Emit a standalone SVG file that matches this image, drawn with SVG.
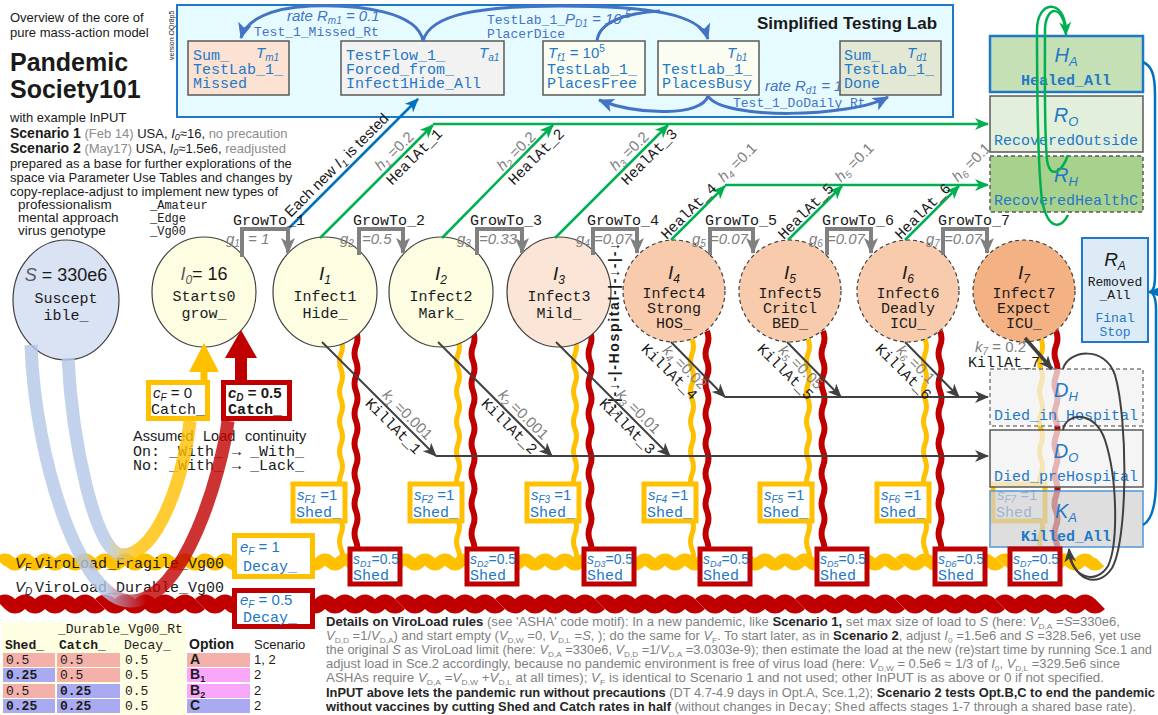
<svg xmlns="http://www.w3.org/2000/svg" width="1158" height="715" viewBox="0 0 1158 715">
<defs>
<style>
text{font-family:"Liberation Sans",Arial,sans-serif;fill:#1a1a1a}
.m{font-family:"Liberation Mono","Courier New",monospace}
.m15{font-family:"Liberation Mono","Courier New",monospace;font-size:15px}
.m13{font-family:"Liberation Mono","Courier New",monospace;font-size:13px}
.it{font-style:italic}
.b{font-weight:bold}
.bl{fill:#1f78c8}
.lbb{fill:#4472c4}
.gy{fill:#8c8c8c}
.g15{font-size:15px;font-style:italic;fill:#808080}
.wy{fill:none;stroke:#ffc000;stroke-width:12}
.wr{fill:none;stroke:#c00000;stroke-width:14}
.vy{fill:none;stroke:#ffc000;stroke-width:5}
.vr{fill:none;stroke:#c00000;stroke-width:6}
.gr{fill:none;stroke:#00b050;stroke-width:2.5}
.kd{fill:none;stroke:#404040;stroke-width:2}
.br{fill:none;stroke:#808080;stroke-width:4}
.la{fill:none;stroke:#4472c4;stroke-width:3}
.ba{fill:none;stroke:#0070c0;stroke-width:2.5}
.cy{fill:#fdfde2;stroke:#404040;stroke-width:1.2}
.cp{fill:#f8cbad;stroke:#404040;stroke-width:1.2;stroke-dasharray:4 3}
.sf{fill:#fff;stroke:#ffc000;stroke-width:5}
.sd{fill:#fff;stroke:#c00000;stroke-width:5}
.p{font-size:12.5px;fill:#7f7f7f}
.pb{font-weight:bold;fill:#262626}
.tv{font-family:"Liberation Mono","Courier New",monospace;font-size:13px}
</style>
<marker id="mG" markerUnits="userSpaceOnUse" markerWidth="14" markerHeight="12" viewBox="0 0 14 12" refX="13" refY="6" orient="auto"><path d="M0,0 L14,6 L0,12 L4,6 z" fill="#00b050"/></marker>
<marker id="mD" markerUnits="userSpaceOnUse" markerWidth="14" markerHeight="12" viewBox="0 0 14 12" refX="13" refY="6" orient="auto"><path d="M0,0 L14,6 L0,12 L4,6 z" fill="#404040"/></marker>
<marker id="mGr" markerUnits="userSpaceOnUse" markerWidth="16" markerHeight="14" viewBox="0 0 16 14" refX="15" refY="7" orient="auto"><path d="M0,0 L16,7 L0,14 L4,7 z" fill="#808080"/></marker>
<marker id="mL" markerUnits="userSpaceOnUse" markerWidth="16" markerHeight="14" viewBox="0 0 16 14" refX="15" refY="7" orient="auto"><path d="M0,0 L16,7 L0,14 L4,7 z" fill="#4472c4"/></marker>
<marker id="mB" markerUnits="userSpaceOnUse" markerWidth="14" markerHeight="12" viewBox="0 0 14 12" refX="13" refY="6" orient="auto"><path d="M0,0 L14,6 L0,12 L4,6 z" fill="#0070c0"/></marker>
<path id="wh" d="M0,0 q5,-5 10,0 t10,0 t10,0 t10,0 t10,0 t10,0 t10,0 t10,0 t10,0 t10,0"/>
<path id="wvY" d="M0,0 q3,7.5 0,15 t0,15 t0,15 t0,15 t0,15 t0,15 t0,15 t0,15 t0,15 t0,15 t0,15 t0,15 t0,15 t0,15 t0,10"/>
<path id="wvR" d="M0,0 q3,7.5 0,15 t0,15 t0,15 t0,15 t0,15 t0,15 t0,15 t0,15 t0,15 t0,15 t0,15 t0,15 t0,15 t0,15 t0,15 t0,15 t0,10"/>
<linearGradient id="gRed" gradientUnits="userSpaceOnUse" x1="60" y1="0" x2="200" y2="0"><stop offset="0.33" stop-color="#b4c7e7"/><stop offset="0.62" stop-color="#c00000"/></linearGradient>
<linearGradient id="gYel" gradientUnits="userSpaceOnUse" x1="80" y1="0" x2="170" y2="0"><stop offset="0.3" stop-color="#b4c7e7"/><stop offset="0.62" stop-color="#ffc000"/></linearGradient>
</defs>

<rect width="1158" height="715" fill="#fff"/>

<g id="lab">
<rect x="177" y="5" width="776" height="112" fill="#e5fbff" stroke="#1f78c8" stroke-width="2"/>
<text x="757" y="29" font-size="17" font-weight="bold">Simplified Testing Lab</text>
<text transform="translate(174,60) rotate(-90)" font-size="7" fill="#8c8c8c">version OQr8p5</text>
</g>

<g id="title">
<text x="10" y="22" font-size="13" fill="#262626">Overview of the core of</text>
<text x="10" y="37" font-size="13" fill="#262626">pure mass-action model</text>
<text x="10" y="71" font-size="25" font-weight="bold" fill="#000">Pandemic</text>
<text x="10" y="98" font-size="25" font-weight="bold" fill="#000">Society101</text>
<text x="10" y="122" font-size="13" fill="#8c8c8c">with example InPUT</text>
<text x="10" y="138" font-size="13" fill="#000"><tspan font-weight="bold" font-size="14">Scenario 1</tspan> <tspan fill="#8c8c8c">(Feb 14)</tspan> USA, <tspan class="it">I</tspan><tspan dy="2" font-size="9" class="it">0</tspan><tspan dy="-2">≈16, </tspan><tspan fill="#8c8c8c">no precaution</tspan></text>
<text x="10" y="153" font-size="13" fill="#000"><tspan font-weight="bold" font-size="14">Scenario 2</tspan> <tspan fill="#8c8c8c">(May17)</tspan> USA, <tspan class="it">I</tspan><tspan dy="2" font-size="9" class="it">0</tspan><tspan dy="-2">≈1.5e6, </tspan><tspan fill="#8c8c8c">readjusted</tspan></text>
<text x="10" y="168" font-size="13" fill="#8c8c8c">prepared as a base for further explorations of the</text>
<text x="10" y="182" font-size="13" fill="#8c8c8c">space via Parameter Use Tables and changes by</text>
<text x="10" y="196" font-size="13" fill="#8c8c8c">copy-replace-adjust to implement new types of</text>
<text x="18" y="209" font-size="13.5" fill="#404040">professionalism</text>
<text x="150" y="209" class="m" font-size="12" fill="#666">_Amateur</text>
<text x="18" y="222" font-size="13.5" fill="#404040">mental approach</text>
<text x="150" y="222" class="m" font-size="12" fill="#666">_Edge</text>
<text x="18" y="235" font-size="13.5" fill="#404040">virus genotype</text>
<text x="150" y="235" class="m" font-size="12" fill="#666">_Vg00</text>
</g>

<g id="waves">
<g class="wy"><use href="#wh" x="0" y="562"/><use href="#wh" x="100" y="562"/><use href="#wh" x="200" y="562"/><use href="#wh" x="300" y="562"/><use href="#wh" x="400" y="562"/><use href="#wh" x="500" y="562"/><use href="#wh" x="600" y="562"/><use href="#wh" x="700" y="562"/><use href="#wh" x="800" y="562"/><use href="#wh" x="900" y="562"/><use href="#wh" x="1000" y="562"/></g>
<g class="wr"><use href="#wh" x="0" y="604"/><use href="#wh" x="100" y="604"/><use href="#wh" x="200" y="604"/><use href="#wh" x="300" y="604"/><use href="#wh" x="400" y="604"/><use href="#wh" x="500" y="604"/><use href="#wh" x="600" y="604"/><use href="#wh" x="700" y="604"/><use href="#wh" x="800" y="604"/><use href="#wh" x="900" y="604"/><use href="#wh" x="1000" y="604"/></g>
</g>

<g id="connectors-under">
<g class="vy"><use href="#wvY" x="341" y="339"/><use href="#wvY" x="458" y="339"/><use href="#wvY" x="575" y="339"/><use href="#wvY" x="692" y="339"/><use href="#wvY" x="808" y="339"/><use href="#wvY" x="925" y="339"/><use href="#wvY" x="1041" y="339"/></g>
<g class="vr"><use href="#wvR" x="356" y="331"/><use href="#wvR" x="473" y="331"/><use href="#wvR" x="590" y="331"/><use href="#wvR" x="707" y="331"/><use href="#wvR" x="823" y="331"/><use href="#wvR" x="940" y="331"/><use href="#wvR" x="1056" y="331"/></g>
</g>

<g id="lab-missed"><rect x="188" y="41" width="101" height="54" fill="#fbe2d2" stroke="#595959" stroke-width="1.5"/>
<text x="193" y="60" class="m15 bl">Sum_</text><text x="256" y="58" font-size="15" class="it bl">T<tspan dy="3" font-size="10">m1</tspan></text>
<text x="193" y="74" class="m15 bl">TestLab_1_</text><text x="193" y="88" class="m15 bl">Missed</text></g>
<g id="lab-flow"><rect x="341" y="41" width="163" height="54" fill="#f2f2f2" stroke="#595959" stroke-width="1.5"/>
<text x="346" y="60" class="m15 bl">TestFlow_1_</text><text x="479" y="58" font-size="15" class="it bl">T<tspan dy="3" font-size="10">a1</tspan></text>
<text x="346" y="74" class="m15 bl">Forced_from_</text><text x="346" y="88" class="m15 bl">Infect1Hide_All</text></g>
<g id="lab-free"><rect x="543" y="41" width="102" height="54" fill="#fbfdf2" stroke="#595959" stroke-width="1.5"/>
<text x="548" y="58" font-size="15" class="it bl">T<tspan dy="3" font-size="10">f1</tspan><tspan dy="-3" font-style="normal"> = 10</tspan><tspan dy="-6" font-size="10" font-style="normal">5</tspan></text>
<text x="547" y="74" class="m15 bl">TestLab_1_</text><text x="547" y="88" class="m15 bl">PlacesFree</text></g>
<g id="lab-busy"><rect x="658" y="41" width="101" height="54" fill="#fbfdf2" stroke="#595959" stroke-width="1.5"/>
<text x="727" y="58" font-size="15" class="it bl">T<tspan dy="3" font-size="10">b1</tspan></text>
<text x="662" y="74" class="m15 bl">TestLab_1_</text><text x="662" y="88" class="m15 bl">PlacesBusy</text></g>
<g id="lab-done"><rect x="840" y="41" width="101" height="54" fill="#e3e8d5" stroke="#595959" stroke-width="1.5"/>
<text x="844" y="60" class="m15 bl">Sum_</text><text x="907" y="58" font-size="15" class="it bl">T<tspan dy="3" font-size="10">d1</tspan></text>
<text x="844" y="74" class="m15 bl">TestLab_1_</text><text x="844" y="88" class="m15 bl">Done</text></g>

<g id="node-S"><ellipse cx="66" cy="300" rx="53" ry="60" fill="#dae3f3" stroke="#404040" stroke-width="1.2"/>
<text x="66" y="281" font-size="18" text-anchor="middle"><tspan class="it" fill="#595959">S</tspan> = 330e6</text>
<text x="66" y="303" class="m15" text-anchor="middle">Suscept</text><text x="66" y="320" class="m15" text-anchor="middle">ible_</text></g>
<g id="node-I0"><ellipse cx="204" cy="292" rx="52" ry="55" class="cy"/>
<text x="204" y="280" font-size="18" text-anchor="middle"><tspan class="it" fill="#595959">I</tspan><tspan dy="4" font-size="12" class="it" fill="#595959">0</tspan><tspan dy="-4">= 16</tspan></text>
<text x="204" y="301" class="m15" text-anchor="middle">Starts0</text><text x="204" y="318" class="m15" text-anchor="middle">grow_</text></g>
<g id="node-I1"><ellipse cx="325" cy="292" rx="52" ry="55" class="cy"/>
<text x="325" y="280" font-size="19" text-anchor="middle" class="it" fill="#595959">I<tspan dy="4" font-size="12">1</tspan></text>
<text x="325" y="301" class="m15" text-anchor="middle">Infect1</text><text x="325" y="318" class="m15" text-anchor="middle">Hide_</text></g>
<g id="node-I2"><ellipse cx="441" cy="292" rx="52" ry="55" class="cy"/>
<text x="441" y="280" font-size="19" text-anchor="middle" class="it" fill="#595959">I<tspan dy="4" font-size="12">2</tspan></text>
<text x="441" y="301" class="m15" text-anchor="middle">Infect2</text><text x="441" y="318" class="m15" text-anchor="middle">Mark_</text></g>
<g id="node-I3"><ellipse cx="559" cy="292" rx="52" ry="55" fill="#fbe5d6" stroke="#404040" stroke-width="1.2"/>
<text x="559" y="280" font-size="19" text-anchor="middle" class="it" fill="#595959">I<tspan dy="4" font-size="12">3</tspan></text>
<text x="559" y="301" class="m15" text-anchor="middle">Infect3</text><text x="559" y="318" class="m15" text-anchor="middle">Mild_</text></g>
<g id="node-I4"><circle cx="674" cy="291" r="51" class="cp"/>
<text x="674" y="279" font-size="19" text-anchor="middle" class="it" fill="#595959">I<tspan dy="4" font-size="12">4</tspan></text>
<text x="674" y="298" class="m15" text-anchor="middle">Infect4</text><text x="674" y="313" class="m15" text-anchor="middle">Strong</text><text x="674" y="328" class="m15" text-anchor="middle">HOS_</text></g>
<g id="node-I5"><circle cx="790" cy="291" r="51" class="cp"/>
<text x="790" y="279" font-size="19" text-anchor="middle" class="it" fill="#595959">I<tspan dy="4" font-size="12">5</tspan></text>
<text x="790" y="298" class="m15" text-anchor="middle">Infect5</text><text x="790" y="313" class="m15" text-anchor="middle">Critcl</text><text x="790" y="328" class="m15" text-anchor="middle">BED_</text></g>
<g id="node-I6"><circle cx="908" cy="291" r="51" class="cp"/>
<text x="908" y="279" font-size="19" text-anchor="middle" class="it" fill="#595959">I<tspan dy="4" font-size="12">6</tspan></text>
<text x="908" y="298" class="m15" text-anchor="middle">Infect6</text><text x="908" y="313" class="m15" text-anchor="middle">Deadly</text><text x="908" y="328" class="m15" text-anchor="middle">ICU_</text></g>
<g id="node-I7"><circle cx="1024" cy="291" r="51" fill="#f4b183" stroke="#404040" stroke-width="1.2" stroke-dasharray="4 3"/>
<text x="1024" y="279" font-size="19" text-anchor="middle" class="it" fill="#595959">I<tspan dy="4" font-size="12">7</tspan></text>
<text x="1024" y="298" class="m15" text-anchor="middle">Infect7</text><text x="1024" y="313" class="m15" text-anchor="middle">Expect</text><text x="1024" y="328" class="m15" text-anchor="middle">ICU_</text></g>

<g id="node-HA"><rect x="990" y="36" width="153" height="56" fill="#c5e0b4" stroke="#1f78c8" stroke-width="2.5"/>
<text x="1066" y="62" font-size="20" text-anchor="middle" class="it bl">H<tspan dy="4" font-size="13">A</tspan></text>
<text x="1066" y="85" class="m15 b bl" text-anchor="middle">Healed_All</text></g>
<g id="node-RO"><rect x="990" y="96" width="153" height="56" fill="#e2efda" stroke="#595959" stroke-width="1.5"/>
<text x="1066" y="122" font-size="20" text-anchor="middle" class="it bl">R<tspan dy="4" font-size="13">O</tspan></text>
<text x="994" y="145" class="m15 bl">RecoveredOutside</text></g>
<g id="node-RH"><rect x="990" y="156" width="153" height="56" fill="#a9d18e" stroke="#595959" stroke-width="1.5" stroke-dasharray="4 3"/>
<text x="1066" y="182" font-size="20" text-anchor="middle" class="it bl">R<tspan dy="4" font-size="13">H</tspan></text>
<text x="994" y="205" class="m15 bl">RecoveredHealthC</text></g>
<g id="node-RA"><rect x="1082" y="238" width="66" height="104" fill="#ddebf7" stroke="#1f78c8" stroke-width="2"/>
<text x="1115" y="266" font-size="19" text-anchor="middle" class="it" fill="#000">R<tspan dy="4" font-size="12">A</tspan></text>
<text x="1115" y="286" class="m13" text-anchor="middle">Removed</text><text x="1115" y="299" class="m13" text-anchor="middle">_All</text>
<text x="1115" y="322" class="m13 bl" text-anchor="middle">Final</text><text x="1115" y="336" class="m13 bl" text-anchor="middle">Stop</text></g>

<g id="shed-F">
<g id="sF1"><rect x="293" y="484" width="52" height="37" class="sf"/><text x="297" y="500" font-size="15" class="bl"><tspan class="it">s</tspan><tspan dy="3" font-size="10" class="it">F1</tspan><tspan dy="-3"> =1</tspan></text><text x="296" y="517" class="m15 bl">Shed_</text></g>
<g id="sF2"><rect x="410" y="484" width="52" height="37" class="sf"/><text x="414" y="500" font-size="15" class="bl"><tspan class="it">s</tspan><tspan dy="3" font-size="10" class="it">F2</tspan><tspan dy="-3"> =1</tspan></text><text x="413" y="517" class="m15 bl">Shed_</text></g>
<g id="sF3"><rect x="527" y="484" width="52" height="37" class="sf"/><text x="531" y="500" font-size="15" class="bl"><tspan class="it">s</tspan><tspan dy="3" font-size="10" class="it">F3</tspan><tspan dy="-3"> =1</tspan></text><text x="530" y="517" class="m15 bl">Shed_</text></g>
<g id="sF4"><rect x="644" y="484" width="52" height="37" class="sf"/><text x="648" y="500" font-size="15" class="bl"><tspan class="it">s</tspan><tspan dy="3" font-size="10" class="it">F4</tspan><tspan dy="-3"> =1</tspan></text><text x="647" y="517" class="m15 bl">Shed_</text></g>
<g id="sF5"><rect x="760" y="484" width="52" height="37" class="sf"/><text x="764" y="500" font-size="15" class="bl"><tspan class="it">s</tspan><tspan dy="3" font-size="10" class="it">F5</tspan><tspan dy="-3"> =1</tspan></text><text x="763" y="517" class="m15 bl">Shed_</text></g>
<g id="sF6"><rect x="877" y="484" width="52" height="37" class="sf"/><text x="881" y="500" font-size="15" class="bl"><tspan class="it">s</tspan><tspan dy="3" font-size="10" class="it">F6</tspan><tspan dy="-3"> =1</tspan></text><text x="880" y="517" class="m15 bl">Shed_</text></g>
<g id="sF7"><rect x="993" y="484" width="52" height="37" class="sf"/><text x="997" y="500" font-size="15" class="bl"><tspan class="it">s</tspan><tspan dy="3" font-size="10" class="it">F7</tspan><tspan dy="-3"> =1</tspan></text><text x="996" y="517" class="m15 bl">Shed_</text></g>
</g>

<g id="node-DH"><rect x="990" y="369" width="153" height="57" fill="#f2f2f2" fill-opacity="0.75" stroke="#7f7f7f" stroke-width="1.5" stroke-dasharray="4 3"/>
<text x="1066" y="397" font-size="20" text-anchor="middle" class="it bl">D<tspan dy="4" font-size="13">H</tspan></text>
<text x="994" y="420" class="m15 bl">Died_in_Hospital</text></g>
<g id="node-DO"><rect x="990" y="430" width="153" height="57" fill="#f2f2f2" fill-opacity="0.75" stroke="#595959" stroke-width="1.5"/>
<text x="1066" y="458" font-size="20" text-anchor="middle" class="it bl">D<tspan dy="4" font-size="13">O</tspan></text>
<text x="994" y="481" class="m15 bl">Died_preHospital</text></g>
<g id="node-KA"><rect x="990" y="491" width="153" height="56" fill="#d0d0d0" fill-opacity="0.7" stroke="#5b9bd5" stroke-width="2" stroke-opacity="0.8"/>
<text x="1066" y="518" font-size="20" text-anchor="middle" class="it bl">K<tspan dy="4" font-size="13">A</tspan></text>
<text x="1066" y="541" class="m15 b bl" text-anchor="middle">Killed_All</text></g>

<g id="shed-D">
<g id="sD1"><rect x="350" y="549" width="50" height="35" class="sd"/><text x="353" y="564" font-size="14" class="bl"><tspan class="it">s</tspan><tspan dy="3" font-size="9" class="it">D1</tspan><tspan dy="-3">=0.5</tspan></text><text x="353" y="580" class="m15 bl">Shed_</text></g>
<g id="sD2"><rect x="467" y="549" width="50" height="35" class="sd"/><text x="470" y="564" font-size="14" class="bl"><tspan class="it">s</tspan><tspan dy="3" font-size="9" class="it">D2</tspan><tspan dy="-3">=0.5</tspan></text><text x="470" y="580" class="m15 bl">Shed_</text></g>
<g id="sD3"><rect x="584" y="549" width="50" height="35" class="sd"/><text x="587" y="564" font-size="14" class="bl"><tspan class="it">s</tspan><tspan dy="3" font-size="9" class="it">D3</tspan><tspan dy="-3">=0.5</tspan></text><text x="587" y="580" class="m15 bl">Shed_</text></g>
<g id="sD4"><rect x="700" y="549" width="50" height="35" class="sd"/><text x="703" y="564" font-size="14" class="bl"><tspan class="it">s</tspan><tspan dy="3" font-size="9" class="it">D4</tspan><tspan dy="-3">=0.5</tspan></text><text x="703" y="580" class="m15 bl">Shed_</text></g>
<g id="sD5"><rect x="817" y="549" width="50" height="35" class="sd"/><text x="820" y="564" font-size="14" class="bl"><tspan class="it">s</tspan><tspan dy="3" font-size="9" class="it">D5</tspan><tspan dy="-3">=0.5</tspan></text><text x="820" y="580" class="m15 bl">Shed_</text></g>
<g id="sD6"><rect x="935" y="549" width="50" height="35" class="sd"/><text x="938" y="564" font-size="14" class="bl"><tspan class="it">s</tspan><tspan dy="3" font-size="9" class="it">D6</tspan><tspan dy="-3">=0.5</tspan></text><text x="938" y="580" class="m15 bl">Shed_</text></g>
<g id="sD7"><rect x="1010" y="549" width="50" height="35" class="sd"/><text x="1013" y="564" font-size="14" class="bl"><tspan class="it">s</tspan><tspan dy="3" font-size="9" class="it">D7</tspan><tspan dy="-3">=0.5</tspan></text><text x="1013" y="580" class="m15 bl">Shed_</text></g>
</g>

<g id="decay-F"><rect x="234.5" y="535.5" width="78" height="41" fill="#fff" stroke="#ffc000" stroke-width="5"/>
<text x="240" y="552" font-size="15" class="bl"><tspan class="it">e</tspan><tspan dy="3" font-size="10" class="it">F</tspan><tspan dy="-3"> = 1</tspan></text><text x="243" y="571" class="m15 bl">Decay_</text></g>
<g id="decay-D"><rect x="234.5" y="590.5" width="78" height="36" fill="#fff" stroke="#c00000" stroke-width="5"/>
<text x="240" y="605" font-size="15" class="bl"><tspan class="it">e</tspan><tspan dy="3" font-size="10" class="it">F</tspan><tspan dy="-3"> =  0.5</tspan></text><text x="243" y="622" class="m15 bl">Decay_</text></g>

<g id="catch-F"><rect x="148.5" y="382.5" width="59" height="36" fill="#fff" stroke="#ffc000" stroke-width="5"/>
<text x="153" y="398" font-size="15" fill="#8c8c8c"><tspan class="it">c</tspan><tspan dy="3" font-size="10" class="it">F</tspan><tspan dy="-3"> = 0</tspan></text><text x="151" y="414" class="m15" fill="#8c8c8c">Catch_</text></g>
<g id="catch-D"><rect x="223.5" y="382.5" width="66" height="36" fill="#fff" stroke="#c00000" stroke-width="5"/>
<text x="228" y="398" font-size="15" font-weight="bold" fill="#000"><tspan class="it">c</tspan><tspan dy="3" font-size="10" class="it">D</tspan><tspan dy="-3"> = 0.5</tspan></text><text x="228" y="414" class="m15 b" fill="#000">Catch_</text></g>

<g id="continuity">
<text y="441" font-size="14.5" fill="#000"><tspan x="133">Assumed</tspan><tspan x="203">Load</tspan><tspan x="245">continuity</tspan></text>
<text x="133" y="456" class="m15" fill="#000">On: _With_ → _With_</text>
<text x="133" y="470" class="m15" fill="#999">No: _With_ → _Lack_</text>
</g>

<g id="viroload-labels">
<text x="15" y="568" font-size="15" class="it" fill="#000">V<tspan dy="3" font-size="10">F</tspan></text><text x="35" y="568" class="m15" fill="#000">ViroLoad_Fragile_Vg00</text>
<text x="15" y="592" font-size="15" class="it" fill="#000">V<tspan dy="3" font-size="10">D</tspan></text><text x="35" y="592" class="m15" fill="#000">ViroLoad_Durable_Vg00</text>
</g>

<g id="hospital"><text transform="translate(619,417) rotate(-90)" font-family="'DejaVu Sans',sans-serif" font-size="14" font-weight="bold" fill="#ff0000" textLength="174" lengthAdjust="spacing">↓-|-↓-|-Hospital-|-↓-|-↓</text></g>

<g id="table">
<rect x="2" y="622" width="184" height="93" fill="#fefee2"/>
<text x="58" y="633" class="tv" fill="#999">_Durable_Vg00_Rt</text>
<text x="5" y="649" class="tv b" fill="#000">Shed_</text><text x="59" y="649" class="tv b" fill="#000">Catch_</text><text x="124" y="649" class="tv" fill="#999">Decay_</text>
<text x="189" y="649" font-size="14" font-weight="bold" fill="#000">Option</text><text x="254" y="649" font-size="13" fill="#999">Scenario</text>
<rect x="3" y="653" width="52" height="14" fill="#f4b1aa"/><rect x="57" y="653" width="63" height="14" fill="#f4b1aa"/><rect x="187" y="653" width="63" height="14" fill="#f4b1aa"/>
<rect x="3" y="668" width="52" height="14" fill="#aaaaf2"/><rect x="57" y="668" width="63" height="14" fill="#f4b1aa"/><rect x="187" y="668" width="63" height="14" fill="#f9a8f9"/>
<rect x="3" y="684" width="52" height="14" fill="#f4b1aa"/><rect x="57" y="684" width="63" height="14" fill="#aaaaf2"/><rect x="187" y="684" width="63" height="14" fill="#f9a8f9"/>
<rect x="3" y="699" width="52" height="14" fill="#aaaaf2"/><rect x="57" y="699" width="63" height="14" fill="#aaaaf2"/><rect x="187" y="699" width="63" height="14" fill="#aaaaf2"/>
<text x="6" y="664" class="tv">0.5</text><text x="60" y="664" class="tv">0.5</text><text x="125" y="664" class="tv" fill="#999">0.5</text><text x="190" y="664" font-size="14" font-weight="bold">A</text><text x="254" y="664" font-size="13" fill="#999">1, 2</text>
<text x="6" y="679" class="tv b">0.25</text><text x="60" y="679" class="tv">0.5</text><text x="125" y="679" class="tv" fill="#999">0.5</text><text x="190" y="679" font-size="14" font-weight="bold">B<tspan dy="3" font-size="9">1</tspan></text><text x="254" y="679" font-size="13" fill="#999">2</text>
<text x="6" y="695" class="tv">0.5</text><text x="60" y="695" class="tv b">0.25</text><text x="125" y="695" class="tv" fill="#999">0.5</text><text x="190" y="695" font-size="14" font-weight="bold">B<tspan dy="3" font-size="9">2</tspan></text><text x="254" y="695" font-size="13" fill="#999">2</text>
<text x="6" y="710" class="tv b">0.25</text><text x="60" y="710" class="tv b">0.25</text><text x="125" y="710" class="tv" fill="#999">0.5</text><text x="190" y="710" font-size="14" font-weight="bold">C</text><text x="254" y="710" font-size="13" fill="#999">2</text>
</g>

<g id="notes">
<text x="326" y="626" class="p" textLength="794" lengthAdjust="spacingAndGlyphs"><tspan class="pb">Details on ViroLoad rules</tspan> (see 'ASHA' code motif): In a new pandemic, like <tspan class="pb">Scenario 1,</tspan> set max size of load to <tspan class="it">S</tspan> (here: <tspan class="it">V</tspan><tspan dy="3" font-size="8">D,A</tspan><tspan dy="-3"> =</tspan><tspan class="it">S</tspan>=330e6,</text>
<text x="326" y="640" class="p" textLength="815" lengthAdjust="spacingAndGlyphs"><tspan class="it">V</tspan><tspan dy="3" font-size="8">D,D</tspan><tspan dy="-3"> =1/</tspan><tspan class="it">V</tspan><tspan dy="3" font-size="8">D,A</tspan><tspan dy="-3">) and start empty (</tspan><tspan class="it">V</tspan><tspan dy="3" font-size="8">D,W</tspan><tspan dy="-3"> =0, </tspan><tspan class="it">V</tspan><tspan dy="3" font-size="8">D,L</tspan><tspan dy="-3"> =</tspan><tspan class="it">S</tspan>, ); do the same for <tspan class="it">V</tspan><tspan dy="3" font-size="8">F</tspan><tspan dy="-3">. To start later, as in </tspan><tspan class="pb">Scenario 2</tspan>, adjust <tspan class="it">I</tspan><tspan dy="3" font-size="8">0</tspan><tspan dy="-3"> =1.5e6 and </tspan><tspan class="it">S</tspan> =328.5e6, yet use</text>
<text x="326" y="654" class="p" textLength="826" lengthAdjust="spacingAndGlyphs">the original <tspan class="it">S</tspan> as ViroLoad limit (here: <tspan class="it">V</tspan><tspan dy="3" font-size="8">D,A</tspan><tspan dy="-3"> =330e6, </tspan><tspan class="it">V</tspan><tspan dy="3" font-size="8">D,D</tspan><tspan dy="-3"> =1/</tspan><tspan class="it">V</tspan><tspan dy="3" font-size="8">D,A</tspan><tspan dy="-3"> =3.0303e-9); then estimate the load at the new (re)start time by running Sce.1 and</tspan></text>
<text x="326" y="668" class="p" textLength="794" lengthAdjust="spacingAndGlyphs">adjust load in Sce.2 accordingly, because no pandemic environment is free of virus load (here: <tspan class="it">V</tspan><tspan dy="3" font-size="8">D,W</tspan><tspan dy="-3"> = 0.5e6 ≈ 1/3 of </tspan><tspan class="it">I</tspan><tspan dy="3" font-size="8">0</tspan><tspan dy="-3">, </tspan><tspan class="it">V</tspan><tspan dy="3" font-size="8">D,L</tspan><tspan dy="-3"> =329.5e6 since</tspan></text>
<text x="326" y="682" class="p" textLength="778" lengthAdjust="spacingAndGlyphs">ASHAs require <tspan class="it">V</tspan><tspan dy="3" font-size="8">D,A</tspan><tspan dy="-3"> =</tspan><tspan class="it">V</tspan><tspan dy="3" font-size="8">D,W</tspan><tspan dy="-3"> +</tspan><tspan class="it">V</tspan><tspan dy="3" font-size="8">D,L</tspan><tspan dy="-3"> at all times); </tspan><tspan class="it">V</tspan><tspan dy="3" font-size="8">F</tspan><tspan dy="-3"> is identical to Scenario 1 and not used; other InPUT is as above or 0 if not specified.</tspan></text>
<text x="326" y="697" class="p" textLength="829" lengthAdjust="spacingAndGlyphs"><tspan class="pb">InPUT above lets the pandemic run without precautions</tspan> (DT 4.7-4.9 days in Opt.A, Sce.1,2); <tspan class="pb">Scenario 2 tests Opt.B,C to end the pandemic</tspan></text>
<text x="326" y="711" class="p" textLength="810" lengthAdjust="spacingAndGlyphs"><tspan class="pb">without vaccines by cutting Shed and Catch rates in half</tspan> (without changes in <tspan class="m">Decay</tspan>; <tspan class="m">Shed</tspan> affects stages 1-7 through a shared base rate).</text>
</g>

<g id="connectors">
<path class="la" d="M423,41 C418,12 360,4 310,6 C270,8 246,20 241,38" marker-end="url(#mL)"/>
<path class="la" d="M423,41 C430,14 480,6 560,6 C650,6 700,14 708,39" marker-end="url(#mL)"/>
<path class="la" d="M597,41 C599,22 625,13 660,11"/>
<path class="la" d="M708,96 C702,116 640,116 599,100" marker-end="url(#mL)"/>
<path class="la" d="M708,96 C722,120 850,118 888,97" marker-end="url(#mL)"/>
<text x="287" y="21" font-size="15" class="it lbb">rate R<tspan dy="3" font-size="10">m1</tspan><tspan dy="-3"> = 0.1</tspan></text>
<text x="254" y="36" class="m13 lbb">Test_1_Missed_Rt</text>
<text x="487" y="24" class="lbb"><tspan class="m13">TestLab_1_</tspan><tspan font-size="15" class="it">P<tspan dy="3" font-size="10">D1</tspan><tspan dy="-3"> = 10</tspan><tspan dy="-6" font-size="10">-5</tspan></tspan></text>
<text x="487" y="38" class="m13 lbb">PlacerDice</text>
<text x="765" y="91" font-size="15" class="it lbb">rate R<tspan dy="3" font-size="10">d1</tspan><tspan dy="-3"> = 1</tspan></text>
<text x="733" y="107" class="m13 lbb">Test_1_DoDaily_Rt</text>
<path class="ba" d="M288,229 L418,99" marker-end="url(#mB)"/>
<text transform="translate(288,228) rotate(-45)" x="9" y="-5" font-size="15" fill="#333">Each new <tspan class="it">I</tspan><tspan dy="3" font-size="10" class="it">1</tspan><tspan dy="-3"> is tested</tspan></text>
<path class="br" d="M242,257 V229 H288 V253" marker-end="url(#mGr)"/>
<path class="br" d="M359,255 V229 H403 V253" marker-end="url(#mGr)"/>
<path class="br" d="M477,255 V229 H522 V253" marker-end="url(#mGr)"/>
<path class="br" d="M593,255 V229 H637 V253" marker-end="url(#mGr)"/>
<path class="br" d="M710,255 V229 H753 V253" marker-end="url(#mGr)"/>
<path class="br" d="M827,255 V229 H871 V253" marker-end="url(#mGr)"/>
<path class="br" d="M943,255 V229 H987 V253" marker-end="url(#mGr)"/>
<text x="233" y="225" class="m15">GrowTo_1</text><text x="353" y="225" class="m15">GrowTo_2</text><text x="470" y="225" class="m15">GrowTo_3</text><text x="587" y="225" class="m15">GrowTo_4</text><text x="705" y="225" class="m15">GrowTo_5</text><text x="822" y="225" class="m15">GrowTo_6</text><text x="938" y="225" class="m15">GrowTo_7</text>
<text x="226" y="244" class="g15">g<tspan dy="3" font-size="10">1</tspan></text><text x="248" y="244" class="g15">= 1</text>
<text x="340" y="244" class="g15">g<tspan dy="3" font-size="10">2</tspan></text><text x="362" y="244" class="g15">=0.5</text>
<text x="457" y="244" class="g15">g<tspan dy="3" font-size="10">3</tspan></text><text x="479" y="244" class="g15">=0.33</text>
<text x="576" y="244" class="g15">g<tspan dy="3" font-size="10">4</tspan></text><text x="594" y="244" class="g15">=0.07</text>
<text x="692" y="244" class="g15">g<tspan dy="3" font-size="10">5</tspan></text><text x="710" y="244" class="g15">=0.07</text>
<text x="809" y="244" class="g15">g<tspan dy="3" font-size="10">6</tspan></text><text x="827" y="244" class="g15">=0.07</text>
<text x="926" y="244" class="g15">g<tspan dy="3" font-size="10">7</tspan></text><text x="944" y="244" class="g15">=0.07</text>
<path class="gr" d="M320,238 L433,125" marker-end="url(#mG)"/>
<path class="gr" d="M442,238 L553,125" marker-end="url(#mG)"/>
<path class="gr" d="M555,238 L668,125" marker-end="url(#mG)"/>
<path class="gr" d="M433,124 L988,124" marker-end="url(#mG)"/>
<path class="gr" d="M671,240 L725,186" marker-end="url(#mG)"/>
<path class="gr" d="M788,240 L842,186" marker-end="url(#mG)"/>
<path class="gr" d="M905,240 L959,186" marker-end="url(#mG)"/>
<path class="gr" d="M725,185 L988,185" marker-end="url(#mG)"/>
<g transform="translate(320,238) rotate(-45)"><text x="90" y="-4" class="g15">h<tspan dy="3" font-size="10">1</tspan><tspan dy="-3" font-style="normal"> =0.2</tspan></text><text x="88" y="14" class="m15">HealAt_1</text></g>
<g transform="translate(442,238) rotate(-45)"><text x="90" y="-4" class="g15">h<tspan dy="3" font-size="10">2</tspan><tspan dy="-3" font-style="normal"> =0.2</tspan></text><text x="88" y="14" class="m15">HealAt_2</text></g>
<g transform="translate(555,238) rotate(-45)"><text x="90" y="-4" class="g15">h<tspan dy="3" font-size="10">3</tspan><tspan dy="-3" font-style="normal"> =0.2</tspan></text><text x="88" y="14" class="m15">HealAt_3</text></g>
<g transform="translate(671,240) rotate(-45)"><text x="-3" y="-3" class="m15">HealAt_4</text><text x="78" y="-3" class="g15">h<tspan dy="3" font-size="10">4</tspan><tspan dy="-3" font-style="normal"> =0.1</tspan></text></g>
<g transform="translate(788,240) rotate(-45)"><text x="-3" y="-3" class="m15">HealAt_5</text><text x="78" y="-3" class="g15">h<tspan dy="3" font-size="10">5</tspan><tspan dy="-3" font-style="normal"> =0.1</tspan></text></g>
<g transform="translate(905,240) rotate(-45)"><text x="-3" y="-3" class="m15">HealAt_6</text><text x="78" y="-3" class="g15">h<tspan dy="3" font-size="10">6</tspan><tspan dy="-3" font-style="normal"> =0.1</tspan></text></g>
<path class="kd" d="M322,342 L436,456" marker-end="url(#mD)"/>
<path class="kd" d="M438,342 L552,456" marker-end="url(#mD)"/>
<path class="kd" d="M556,342 L670,456" marker-end="url(#mD)"/>
<path class="kd" d="M436,456 L988,456" marker-end="url(#mD)"/>
<path class="kd" d="M671,342 L725,397" marker-end="url(#mD)"/>
<path class="kd" d="M787,342 L841,397" marker-end="url(#mD)"/>
<path class="kd" d="M905,342 L959,397" marker-end="url(#mD)"/>
<path class="kd" d="M725,397 L988,397" marker-end="url(#mD)"/>
<path d="M1025,338 L1052,369" fill="none" stroke="#404040" stroke-width="3.5" marker-end="url(#mD)"/>
<g transform="translate(322,342) rotate(45)"><text x="80" y="-4" class="g15">k<tspan dy="3" font-size="10">1</tspan><tspan dy="-3" font-style="normal"> =0.001</tspan></text><text x="74" y="14" class="m15">KillAt_1</text></g>
<g transform="translate(438,342) rotate(45)"><text x="80" y="-4" class="g15">k<tspan dy="3" font-size="10">2</tspan><tspan dy="-3" font-style="normal"> =0.001</tspan></text><text x="74" y="14" class="m15">KillAt_2</text></g>
<g transform="translate(556,342) rotate(45)"><text x="80" y="-4" class="g15">k<tspan dy="3" font-size="10">3</tspan><tspan dy="-3" font-style="normal"> =0.01</tspan></text><text x="74" y="14" class="m15">KillAt_3</text></g>
<g transform="translate(671,342) rotate(45)"><text x="0" y="13" class="g15">k<tspan dy="3" font-size="10">4</tspan><tspan dy="-3" font-style="normal"> =0.02</tspan></text><text x="-16" y="27" class="m15">KillAt_4</text></g>
<g transform="translate(787,342) rotate(45)"><text x="0" y="13" class="g15">k<tspan dy="3" font-size="10">5</tspan><tspan dy="-3" font-style="normal"> =0.05</tspan></text><text x="-16" y="27" class="m15">KillAt_5</text></g>
<g transform="translate(905,342) rotate(45)"><text x="0" y="13" class="g15">k<tspan dy="3" font-size="10">6</tspan><tspan dy="-3" font-style="normal"> =0.1</tspan></text><text x="-16" y="27" class="m15">KillAt_6</text></g>
<text x="975" y="352" class="g15">k<tspan dy="3" font-size="10">7</tspan><tspan dy="-3" font-style="normal"> = 0.2</tspan></text>
<text x="968" y="367" class="m15">KillAt_7</text>
<path class="gr" d="M1068,155 C1062,172 1050,180 1047,160 C1044,130 1045,60 1045,30 C1045,6 1064,2 1066,35" marker-end="url(#mG)"/>
<path class="gr" d="M1068,215 C1062,228 1048,232 1042,200 C1037,160 1037,60 1037,30 C1037,0 1064,-2 1066,30"/>
<path class="kd" d="M1063,369 C1068,350 1105,345 1115,375 C1128,420 1128,540 1112,568 C1098,590 1072,580 1069,549" marker-end="url(#mD)"/>
<path class="kd" d="M1063,430 C1066,412 1095,410 1105,440 C1118,480 1118,545 1108,566 C1096,585 1074,578 1069,555"/>
<path class="ba" d="M1143,62 C1152,66 1155,75 1155,95 L1155,275 C1155,288 1153,292 1149,292" marker-end="url(#mB)"/>
<path class="ba" d="M1143,525 C1152,520 1156,505 1156,480 L1156,310 C1156,298 1154,293 1150,292"/>
<path d="M31,345 C35,460 80,600 130,601 C185,602 222,470 228,421" fill="none" stroke="url(#gRed)" stroke-width="13" opacity="0.8"/>
<path d="M68,358 C72,440 95,553 122,555 C160,555 185,470 190,421" fill="none" stroke="url(#gYel)" stroke-width="13" opacity="0.8"/>
<path d="M204,381 V365" stroke="#ffc000" stroke-width="7"/>
<path d="M189,372 L219,372 L204,343 z" fill="#ffc000"/>
<path d="M241,381 V352" stroke="#c00000" stroke-width="12"/>
<path d="M225,358 L257,358 L241,330 z" fill="#c00000"/>
</g>
</svg>
